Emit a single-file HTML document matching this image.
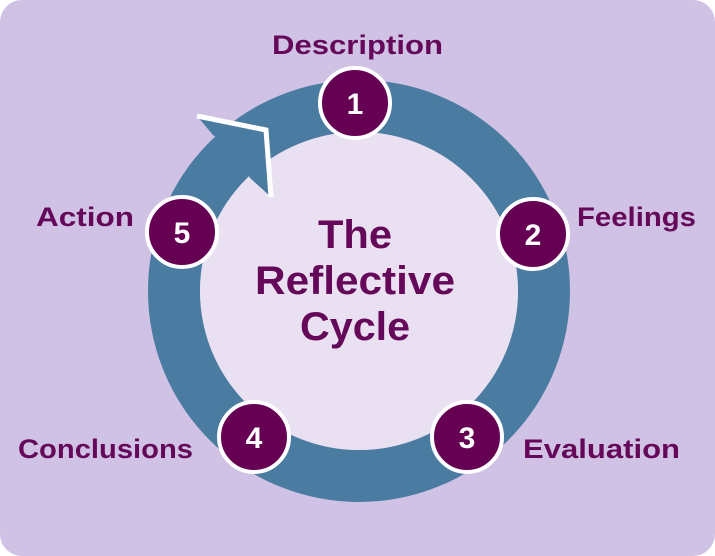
<!DOCTYPE html>
<html><head><style>
html,body{margin:0;padding:0;background:#fff;}
</style></head><body>
<svg width="715" height="556" viewBox="0 0 715 556" xmlns="http://www.w3.org/2000/svg" style="display:block">
<rect x="0" y="0" width="715" height="556" rx="22" fill="#d0c2e5"/>
<circle cx="359" cy="291" r="185" fill="none" stroke="#4a7ba1" stroke-width="52"/>
<circle cx="359" cy="291" r="159" fill="#e9e0f2"/>
<polygon points="197,116 266,130 271,197 250,178 235,150 213,135" fill="#4a7ba1"/>
<polyline points="197,116 266,130 271,197" fill="none" stroke="#fff" stroke-width="5"/>
<g font-family="Liberation Sans, sans-serif" font-weight="bold" fill="#66085a">
<text x="318" y="248" font-size="40" textLength="74" lengthAdjust="spacingAndGlyphs">The</text>
<text x="255" y="294" font-size="40" textLength="200" lengthAdjust="spacingAndGlyphs">Reflective</text>
<text x="300" y="340" font-size="40" textLength="110" lengthAdjust="spacingAndGlyphs">Cycle</text>
<text x="272" y="54" font-size="27" textLength="171" lengthAdjust="spacingAndGlyphs">Description</text>
<text x="577" y="226" font-size="27" textLength="119" lengthAdjust="spacingAndGlyphs">Feelings</text>
<text x="36" y="226" font-size="27" textLength="98" lengthAdjust="spacingAndGlyphs">Action</text>
<text x="18" y="458" font-size="27" textLength="175" lengthAdjust="spacingAndGlyphs">Conclusions</text>
<text x="523" y="458" font-size="27" textLength="157" lengthAdjust="spacingAndGlyphs">Evaluation</text>
</g>
<g stroke="#fff" stroke-width="4" fill="#650052">
<circle cx="355" cy="103" r="35"/>
<circle cx="533" cy="234" r="35"/>
<circle cx="467" cy="437" r="35"/>
<circle cx="254" cy="437" r="35"/>
<circle cx="182" cy="232" r="35"/>
</g>
<g font-family="Liberation Sans, sans-serif" font-weight="bold" font-size="30" fill="#fff" text-anchor="middle">
<text x="355" y="114">1</text>
<text x="533" y="245">2</text>
<text x="467" y="448">3</text>
<text x="254" y="448">4</text>
<text x="182" y="243">5</text>
</g>
</svg>
</body></html>
